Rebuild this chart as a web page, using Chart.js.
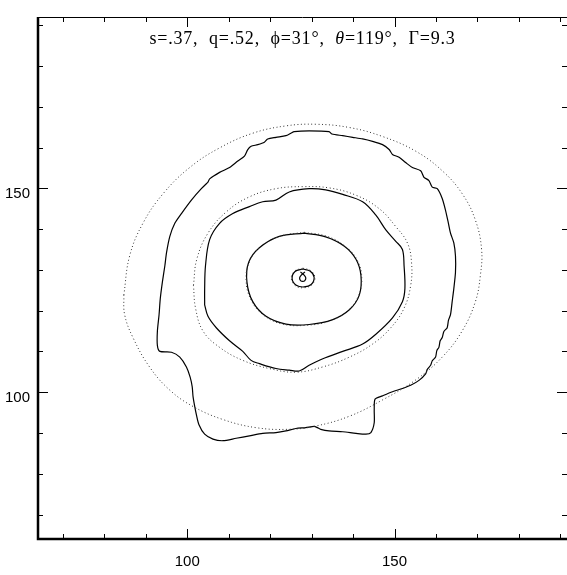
<!DOCTYPE html>
<html>
<head>
<meta charset="utf-8">
<script src="https://cdn.jsdelivr.net/npm/chart.js@4.4.1/dist/chart.umd.min.js"></script>
<style>
  html, body { margin: 0; padding: 0; background: #fff; }
  #wrap { width: 567px; height: 575px; }
</style>
</head>
<body>
<div id="wrap"><canvas id="plot" width="567" height="575"></canvas></div>
<script>
// axis ranges and ticks (image pixel units)
const X_RANGE = [64, 191.6];
const Y_RANGE = [64, 192];
const LABEL_TICKS = [100, 150];
const MINOR_TICKS = [70, 80, 90, 100, 110, 120, 130, 140, 150, 160, 170, 180, 190];
const MAJOR_TICKS = [100, 150];

// title pieces: [text, italic?]
const TITLE = [
  ['s=.37,  q=.52,  ', false],
  ['\u03d5', false],
  ['=31\u00b0,  ', false],
  ['\u03b8', true],
  ['=119\u00b0,  \u0393=9.3', false]
];

// fitted ellipses (dotted)
const outerEllipse = [
  [84.7, 123.8], [86.1, 133.4], [89.3, 141.4], [94.2, 148.7], [100.6, 155.1],
  [107.8, 159.9], [115.8, 163.5], [123.8, 165.3], [131.0, 165.7], [139.1, 164.9],
  [147.1, 162.7], [155.1, 159.1], [161.5, 154.3], [166.3, 148.7], [169.5, 142.2],
  [171.0, 135.0], [170.7, 128.6], [169.5, 122.2], [166.3, 115.0], [161.5, 108.6],
  [155.1, 103.0], [147.1, 98.1], [139.1, 94.1], [131.0, 91.7], [124.6, 90.9],
  [116.6, 91.3], [108.6, 93.3], [101.4, 96.5], [95.8, 100.5], [90.9, 106.2],
  [86.9, 113.4], [84.9, 119.0]
];
const middleEllipse = [
  [101.5, 126.2], [102.3, 132.6], [105.0, 139.0], [109.4, 144.2], [115.0, 147.9],
  [121.4, 149.9], [127.8, 150.4], [134.2, 150.1], [140.7, 148.3], [146.3, 145.0],
  [150.3, 140.6], [153.1, 136.6], [154.1, 131.8], [153.9, 126.2], [152.3, 120.6],
  [149.1, 115.8], [144.7, 111.8], [139.1, 108.6], [132.7, 106.2], [126.2, 104.9],
  [119.8, 105.8], [113.4, 107.8], [107.8, 111.0], [103.8, 115.0], [102.0, 120.6]
];
const innerEllipse = [
  [128.2, 139.2], [133.8, 138.2], [138.3, 135.6], [141.1, 132.2], [142.1, 127.7],
  [141.2, 123.4], [138.5, 119.8], [134.2, 117.4], [128.6, 116.4], [123.0, 116.7],
  [118.4, 118.9], [115.4, 122.6], [114.2, 127.4], [115.0, 132.0], [117.8, 135.8],
  [122.6, 138.3]
];
const coreEllipse = [
  [127.9, 130.4], [129.8, 129.8], [130.8, 128.1], [130.0, 126.3], [128.0, 125.6],
  [126.1, 126.1], [125.1, 127.9], [125.9, 129.7]
];

// isophote contours (solid)
const outerContour = [
  [105.0, 151.5], [105.4, 152.3], [107.8, 153.9], [110.2, 155.1], [112.2, 156.7],
  [113.8, 157.9], [114.6, 159.5], [115.4, 160.3], [117.0, 160.7], [118.6, 161.3],
  [119.4, 162.1], [121.4, 162.5], [123.8, 162.9], [125.0, 163.5], [125.8, 163.9],
  [129.4, 164.1], [134.2, 163.9], [134.9, 163.3], [137.5, 162.9], [139.9, 162.5],
  [142.3, 162.1], [144.7, 161.5], [147.1, 160.7], [148.7, 159.5], [149.5, 158.3],
  [151.1, 157.6], [152.7, 156.3], [154.3, 155.1], [156.3, 154.3], [157.1, 152.7],
  [158.3, 151.9], [159.1, 150.3], [160.3, 149.9], [161.5, 147.5], [162.3, 144.6],
  [163.0, 141.4], [163.5, 139.0], [164.3, 136.6], [164.7, 133.4], [164.7, 129.4],
  [164.3, 125.4], [163.9, 122.2], [163.5, 119.0], [163.0, 117.6], [162.7, 115.8],
  [161.9, 114.9], [161.5, 113.4], [161.0, 112.6], [160.7, 111.0], [160.2, 110.2],
  [159.9, 108.6], [159.1, 107.7], [158.7, 106.6], [157.9, 105.6], [157.5, 104.5],
  [155.9, 102.9], [153.9, 101.7], [151.9, 100.9], [149.5, 100.1], [147.1, 99.1],
  [145.3, 98.3], [145.1, 95.7], [145.1, 92.5], [144.3, 90.1], [143.1, 89.7],
  [140.7, 89.9], [137.5, 90.3], [134.2, 90.5], [132.2, 90.9], [131.4, 91.3],
  [130.6, 91.6], [128.6, 91.3], [126.2, 91.1], [123.8, 90.5], [121.4, 90.1],
  [118.2, 89.9], [115.0, 89.3], [111.8, 88.7], [108.6, 88.1], [106.2, 88.5],
  [104.2, 89.7], [102.8, 92.1], [102.2, 94.5], [101.8, 96.5], [101.4, 98.9],
  [101.2, 101.3], [100.7, 103.7], [99.8, 106.2], [98.2, 108.6], [96.2, 109.8],
  [93.4, 110.0], [92.8, 111.4], [92.8, 115.0], [93.2, 119.0], [93.5, 123.0],
  [94.0, 127.0], [94.6, 131.0], [95.0, 134.2], [95.8, 138.2], [97.0, 141.4],
  [98.6, 143.8], [101.0, 147.1], [103.4, 149.9]
];
const middleContour = [
  [104.2, 121.4], [104.2, 125.4], [104.4, 131.0], [105.4, 137.4], [107.8, 141.4],
  [111.0, 143.8], [115.0, 145.5], [118.2, 146.7], [121.4, 147.1], [124.6, 149.1],
  [129.4, 149.9], [133.4, 149.6], [137.5, 148.5], [142.3, 146.7], [145.5, 143.4],
  [147.9, 139.8], [150.3, 137.0], [151.9, 135.0], [152.3, 131.0], [152.5, 125.4],
  [151.9, 122.2], [149.5, 118.2], [145.5, 114.2], [142.3, 111.8], [137.5, 110.0],
  [132.7, 108.2], [129.4, 106.6], [127.0, 105.2], [124.6, 105.4], [121.4, 105.8],
  [117.4, 107.0], [115.4, 107.8], [113.4, 110.0], [110.2, 112.6], [107.0, 115.8],
  [105.0, 118.6]
];
const innerContour = [
  [128.2, 139.0], [133.4, 138.1], [137.9, 135.8], [140.7, 132.6], [141.9, 128.6],
  [141.5, 123.8], [139.1, 120.2], [135.1, 117.8], [129.4, 116.6], [123.8, 116.7],
  [119.0, 118.6], [115.8, 122.2], [114.4, 127.0], [114.8, 131.8], [117.4, 135.4],
  [122.2, 138.2]
];
const coreContour = [
  [127.9, 130.2], [129.6, 129.7], [130.6, 128.2], [129.9, 126.4], [128.2, 125.8],
  [126.3, 126.2], [125.3, 127.8], [126.0, 129.6]
];
const peakLoop = [
  [127.3, 129.5], [128.2, 128.7], [128.6, 128.0], [128.3, 127.3], [127.85, 127.15],
  [127.4, 127.3], [127.1, 128.0], [127.5, 128.7], [128.4, 129.5]
];

function closed(pts) {
  return pts.concat([pts[0]]).map(p => ({ x: p[0], y: p[1] }));
}
function open(pts) {
  return pts.map(p => ({ x: p[0], y: p[1] }));
}
function dotted(pts) {
  return { data: closed(pts), borderColor: '#333', borderWidth: 1, borderDash: [1, 2.5], tension: 0.4 };
}
function solid(pts, isClosed = true, tension = 0.35) {
  return { data: isClosed ? closed(pts) : open(pts), borderColor: '#000', borderWidth: 1.2, tension };
}

const framePlugin = {
  id: 'frame',
  afterDraw(chart) {
    const { ctx, chartArea: a, scales: { x, y } } = chart;
    ctx.save();
    ctx.strokeStyle = '#000';
    ctx.lineWidth = 1;
    MINOR_TICKS.forEach(v => {
      const len = MAJOR_TICKS.includes(v) ? 10 : 5;
      const px = Math.round(x.getPixelForValue(v)) + 0.5;
      const py = Math.round(y.getPixelForValue(v)) + 0.5;
      ctx.beginPath();
      ctx.moveTo(px, a.bottom); ctx.lineTo(px, a.bottom - len);
      ctx.moveTo(px, a.top); ctx.lineTo(px, a.top + len);
      ctx.moveTo(a.left, py); ctx.lineTo(a.left + len, py);
      ctx.moveTo(a.right, py); ctx.lineTo(a.right - len, py);
      ctx.stroke();
    });
    ctx.beginPath();
    ctx.moveTo(a.left, Math.round(a.top) + 0.5);
    ctx.lineTo(a.right, Math.round(a.top) + 0.5);
    ctx.stroke();
    ctx.lineWidth = 2.5;
    ctx.beginPath();
    ctx.moveTo(a.left, a.top);
    ctx.lineTo(a.left, a.bottom);
    ctx.lineTo(a.right, a.bottom);
    ctx.stroke();

    // title inside the box
    const size = 18;
    const fontOf = it => (it ? 'italic ' : '') + size + 'px "Liberation Serif", "DejaVu Serif", serif';
    ctx.letterSpacing = '0.8px';
    let total = 0;
    TITLE.forEach(([t, it]) => { ctx.font = fontOf(it); total += ctx.measureText(t).width; });
    let cx = (a.left + a.right) / 2 - total / 2;
    const cy = a.top + 22;
    ctx.fillStyle = '#000';
    ctx.textBaseline = 'middle';
    ctx.textAlign = 'left';
    TITLE.forEach(([t, it]) => {
      ctx.font = fontOf(it);
      ctx.fillText(t, cx, cy);
      cx += ctx.measureText(t).width;
    });
    ctx.restore();
  }
};

const tickFont = { family: '"Liberation Sans", Arial, sans-serif', size: 15 };

new Chart(document.getElementById('plot'), {
  type: 'scatter',
  data: {
    datasets: [
      dotted(outerEllipse),
      dotted(middleEllipse),
      dotted(innerEllipse),
      dotted(coreEllipse),
      solid(outerContour, true, 0.25),
      solid(middleContour),
      solid(innerContour),
      solid(coreContour),
      solid(peakLoop, false)
    ].map(d => Object.assign(d, { showLine: true, pointRadius: 0, fill: false }))
  },
  options: {
    responsive: false,
    animation: false,
    layout: { padding: { top: 6, right: -2, left: 0, bottom: 0 } },
    plugins: { legend: { display: false }, tooltip: { enabled: false } },
    scales: {
      x: {
        type: 'linear',
        min: X_RANGE[0],
        max: X_RANGE[1],
        grid: { display: false, drawTicks: false },
        border: { display: false },
        afterBuildTicks: s => { s.ticks = LABEL_TICKS.map(v => ({ value: v })); },
        afterFit: s => { s.height = 36; },
        ticks: { font: tickFont, color: '#000', padding: 14, maxRotation: 0 }
      },
      y: {
        type: 'linear',
        min: Y_RANGE[0],
        max: Y_RANGE[1],
        grid: { display: false, drawTicks: false },
        border: { display: false },
        afterBuildTicks: s => { s.ticks = LABEL_TICKS.map(v => ({ value: v })); },
        afterFit: s => { s.width = 38; },
        ticks: { font: tickFont, color: '#000', padding: 8, labelOffset: 6 }
      }
    }
  },
  plugins: [framePlugin]
});
</script>
</body>
</html>
